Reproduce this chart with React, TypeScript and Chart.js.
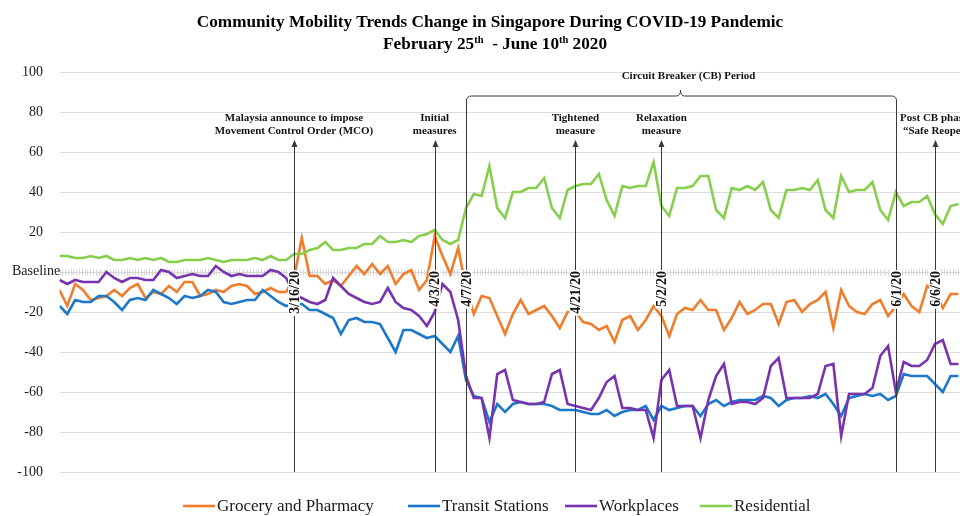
import React, { useEffect, useRef } from "react";
import { Chart, registerables } from "chart.js";

Chart.register(...registerables);

// ---------- DATA (day index 0 = 15 Feb 2020) ----------
const START_DATE = "2020-02-15";

const grocery = [
  -9, -17, -6, -9, -14, -13, -12, -9, -12, -8, -6, -13, -10, -11, -7, -10, -5, -5, -12, -11, -9, -10, -7, -6,
  -7, -11, -10, -8, -10, -10, -3, 17, -2, -2, -6, -4, -7, -2, 3, -1, 4, -1, 3, -6, -1, 1, -9,
  -4, 18, 8, -1, 12, -8, -21, -12, -13, -22, -31, -21, -14, -21, -19, -17, -22, -28, -20, -20, -25, -26, -29,
  -27, -35, -24, -22, -29, -24, -17, -22, -32, -21, -18, -19, -14, -19, -19, -29, -23, -15, -21, -19, -16, -16, -26,
  -15, -14, -20, -16, -14, -10, -28, -9, -17, -20, -21, -16, -14, -22, -17, -11, -17, -20, -7, -10, -18, -11, -11,
];

const transit = [
  -17, -21, -14, -15, -15, -12, -12, -15, -19, -14, -13, -14, -9, -11, -13, -16, -12, -13, -12, -9, -10, -15, -16, -15,
  -14, -14, -9, -12, -15, -17, -16, -16, -19, -19, -21, -23, -31, -24, -23, -25, -25, -26, -33, -40, -29, -29, -31,
  -33, -32, -36, -40, -32, -54, -62, -63, -75, -66, -70, -66, -65, -66, -66, -66, -67, -69, -69, -69, -70, -71, -71,
  -69, -72, -70, -69, -69, -67, -74, -67, -69, -68, -67, -67, -72, -66, -64, -67, -65, -64, -64, -64, -62, -63, -67,
  -64, -63, -63, -62, -63, -61, -66, -72, -63, -62, -61, -62, -61, -64, -62, -51, -52, -52, -52, -56, -60, -52, -52,
];

const workplaces = [
  -4, -6, -4, -5, -5, -5, 0, -3, -5, -3, -3, -4, -4, 1, 0, -3, -2, -1, -2, -2, 3, 0, -2, -1,
  -2, -2, -2, 1, 0, -3, -11, -13, -15, -16, -14, -3, -7, -11, -13, -15, -16, -15, -8, -15, -18, -19, -22,
  -27, -20, -6, -10, -24, -52, -63, -63, -83, -51, -49, -64, -65, -66, -66, -65, -51, -49, -66, -67, -68, -69, -63,
  -55, -52, -68, -68, -69, -69, -83, -54, -49, -67, -67, -67, -83, -64, -52, -46, -66, -65, -65, -66, -63, -47, -43,
  -63, -63, -63, -63, -61, -47, -46, -82, -61, -61, -61, -58, -42, -37, -60, -45, -47, -47, -44, -36, -34, -46, -46,
];

const residential = [
  8, 8, 7, 7, 8, 7, 8, 6, 6, 7, 6, 7, 6, 7, 5, 5, 6, 6, 6, 7, 6, 5, 6, 6,
  6, 7, 6, 8, 6, 6, 9, 9, 11, 12, 15, 11, 11, 12, 12, 14, 14, 18, 15, 15, 16, 15, 18,
  19, 21, 16, 14, 16, 32, 39, 38, 53, 32, 27, 40, 40, 42, 42, 47, 32, 27, 41, 43, 44, 44, 49,
  36, 28, 43, 42, 43, 43, 55, 33, 28, 42, 42, 43, 48, 48, 31, 27, 42, 41, 43, 41, 45, 31, 27,
  41, 41, 42, 41, 46, 31, 27, 48, 40, 41, 41, 45, 31, 26, 40, 33, 35, 35, 38, 29, 24, 33, 34,
];

const seriesNames = ["Grocery and Pharmacy", "Transit Stations", "Workplaces", "Residential"];
const seriesColors = ["#F07D2C", "#1C78C9", "#7833AE", "#86CE4B"];

const yTickValues = [100, 80, 60, 40, 20, 0, -20, -40, -60, -80, -100];
const baselineLabel = "Baseline";

const titleLine1 = "Community Mobility Trends Change in Singapore During COVID-19 Pandemic";
const titleLine2 = [
  { text: "February 25", sup: false },
  { text: "th", sup: true },
  { text: "  - June 10", sup: false },
  { text: "th", sup: true },
  { text: " 2020", sup: false },
];

// events: day index, date label, annotation lines, type
const events = [
  { day: 30, date: "3/16/20", lines: ["Malaysia announce to impose", "Movement Control Order (MCO)"], kind: "arrow", align: "center" },
  { day: 48, date: "4/3/20", lines: ["Initial", "measures"], kind: "arrow", align: "center" },
  { day: 52, date: "4/7/20", lines: [], kind: "bracket", align: "center" },
  { day: 66, date: "4/21/20", lines: ["Tightened", "measure"], kind: "arrow", align: "center" },
  { day: 77, date: "5/2/20", lines: ["Relaxation", "measure"], kind: "arrow", align: "center" },
  { day: 107, date: "6/1/20", lines: [], kind: "bracket", align: "center" },
  { day: 112, date: "6/6/20", lines: ["Post CB phase 1", "\u201CSafe Reopening\u201D"], kind: "arrow", align: "left" },
];
const cbLabel = "Circuit Breaker (CB) Period";

// legend layout (style only)
const LEGEND_ITEM_X = [183, 408, 565, 700];

function buildDayLabels(start: string, n: number): string[] {
  const out: string[] = [];
  const d0 = new Date(start + "T00:00:00Z");
  for (let i = 0; i < n; i++) {
    const d = new Date(d0.getTime() + i * 86400000);
    out.push(`${d.getUTCMonth() + 1}/${d.getUTCDate()}/20`);
  }
  return out;
}
const dayLabels = buildDayLabels(START_DATE, grocery.length);

const SERIF = "'Liberation Serif', 'Times New Roman', Times, serif";

const overlayPlugin = {
  id: "overlay",
  beforeDatasetsDraw(chart: any) {
    const { ctx, chartArea } = chart;
    const y = chart.scales.y;
    const y0 = Math.round(y.getPixelForValue(0)) + 0.5;
    ctx.save();
    ctx.strokeStyle = "#d6d6d6";
    ctx.lineWidth = 1;
    ctx.beginPath();
    ctx.moveTo(chartArea.left, y0);
    ctx.lineTo(chartArea.right, y0);
    ctx.stroke();
    ctx.beginPath();
    for (let px = chartArea.left; px <= chartArea.right; px += 2.8) {
      const xx = Math.round(px) + 0.5;
      ctx.moveTo(xx, y0 - 3);
      ctx.lineTo(xx, y0 + 3);
    }
    ctx.stroke();
    ctx.restore();
  },
  afterDatasetsDraw(chart: any) {
    const { ctx, chartArea } = chart;
    const xs = chart.scales.x;
    const ys = chart.scales.y;
    const bottom = chartArea.bottom;
    const tipY = ys.getPixelForValue(66);
    const bracketY = ys.getPixelForValue(88);
    const notchY = ys.getPixelForValue(91);
    ctx.save();
    ctx.strokeStyle = "#3a3a3a";
    ctx.fillStyle = "#3a3a3a";
    ctx.lineWidth = 1;

    const bracketXs: number[] = [];
    events.forEach((ev) => {
      const px = Math.round(xs.getPixelForValue(ev.day)) + 0.5;
      if (ev.kind === "arrow") {
        ctx.beginPath();
        ctx.moveTo(px, bottom);
        ctx.lineTo(px, tipY + 6);
        ctx.stroke();
        ctx.beginPath();
        ctx.moveTo(px, tipY);
        ctx.lineTo(px - 3, tipY + 7);
        ctx.lineTo(px + 3, tipY + 7);
        ctx.closePath();
        ctx.fill();
      } else {
        bracketXs.push(px);
      }
    });

    // Circuit breaker bracket
    if (bracketXs.length === 2) {
      const [a, b] = bracketXs;
      const r = 5;
      const mid = (a + b) / 2 - 1;
      ctx.beginPath();
      ctx.moveTo(a, bottom);
      ctx.lineTo(a, bracketY + r);
      ctx.quadraticCurveTo(a, bracketY, a + r, bracketY);
      ctx.lineTo(mid - 4, bracketY);
      ctx.quadraticCurveTo(mid, bracketY, mid, notchY);
      ctx.quadraticCurveTo(mid, bracketY, mid + 4, bracketY);
      ctx.lineTo(b - r, bracketY);
      ctx.quadraticCurveTo(b, bracketY, b, bracketY + r);
      ctx.lineTo(b, bottom);
      ctx.stroke();

      ctx.fillStyle = "#111";
      ctx.font = `bold 11px ${SERIF}`;
      ctx.textAlign = "center";
      ctx.textBaseline = "middle";
      ctx.fillText(cbLabel, mid + 8, ys.getPixelForValue(98));
    }

    // event texts
    ctx.fillStyle = "#111";
    ctx.font = `bold 11px ${SERIF}`;
    ctx.textBaseline = "middle";
    events.forEach((ev) => {
      const px = xs.getPixelForValue(ev.day);
      ev.lines.forEach((ln, i) => {
        const ty = ys.getPixelForValue(77) + i * 13;
        if (ev.align === "left") {
          ctx.textAlign = "left";
          ctx.fillText(ln, px - 35 + i * 3, ty);
        } else {
          ctx.textAlign = "center";
          ctx.fillText(ln, px, ty);
        }
      });
    });

    // rotated date labels
    ctx.font = `bold 14px ${SERIF}`;
    events.forEach((ev) => {
      const px = xs.getPixelForValue(ev.day);
      const topY = ys.getPixelForValue(0) - 1;
      const w = ctx.measureText(ev.date).width;
      ctx.save();
      ctx.translate(px, topY);
      ctx.rotate(-Math.PI / 2);
      ctx.fillStyle = "#ffffff";
      ctx.fillRect(-w - 2, -6, w + 3, 12);
      ctx.fillStyle = "#111";
      ctx.textAlign = "right";
      ctx.textBaseline = "middle";
      ctx.fillText(ev.date, 0, 1);
      ctx.restore();
    });
    ctx.restore();
  },
  afterDraw(chart: any) {
    const { ctx } = chart;
    const ys = chart.scales.y;
    ctx.save();
    // Baseline label
    ctx.fillStyle = "#1a1a1a";
    ctx.font = `14px ${SERIF}`;
    ctx.textAlign = "left";
    ctx.textBaseline = "middle";
    ctx.fillText(baselineLabel, 12, ys.getPixelForValue(0) - 1);

    // Title
    const cx = 490;
    ctx.fillStyle = "#000";
    ctx.font = `bold 17.2px ${SERIF}`;
    ctx.textAlign = "center";
    ctx.textBaseline = "alphabetic";
    ctx.fillText(titleLine1, cx, 27);

    // Title line 2 with superscripts
    ctx.textAlign = "left";
    const mainFont = `bold 17.2px ${SERIF}`;
    const supFont = `bold 10.5px ${SERIF}`;
    let total = 0;
    titleLine2.forEach((s) => {
      ctx.font = s.sup ? supFont : mainFont;
      total += ctx.measureText(s.text).width;
    });
    let sx = cx + 5 - total / 2;
    titleLine2.forEach((s) => {
      ctx.font = s.sup ? supFont : mainFont;
      ctx.fillText(s.text, sx, s.sup ? 43 : 49);
      sx += ctx.measureText(s.text).width;
    });

    // Legend
    ctx.font = `17px ${SERIF}`;
    const lineW = 32;
    const ly = 506;
    ctx.textBaseline = "middle";
    ctx.textAlign = "left";
    seriesNames.forEach((n, i) => {
      const lx = LEGEND_ITEM_X[i];
      ctx.strokeStyle = seriesColors[i];
      ctx.lineWidth = 2.6;
      ctx.beginPath();
      ctx.moveTo(lx, ly);
      ctx.lineTo(lx + lineW, ly);
      ctx.stroke();
      ctx.fillStyle = "#1a1a1a";
      ctx.fillText(n, lx + lineW + 2, ly + 1);
    });
    ctx.restore();
  },
};

export default function App() {
  const canvasRef = useRef<HTMLCanvasElement | null>(null);

  useEffect(() => {
    if (!canvasRef.current) return;
    const allSeries = [grocery, transit, workplaces, residential];
    const chart = new Chart(canvasRef.current, {
      type: "line",
      data: {
        labels: dayLabels,
        datasets: allSeries.map((arr, i) => ({
          label: seriesNames[i],
          data: arr.map((v, d) => ({ x: d, y: v })),
          borderColor: seriesColors[i],
          backgroundColor: seriesColors[i],
          borderWidth: 2.6,
          pointRadius: 0,
          tension: 0,
          fill: false,
          order: allSeries.length - i,
        })),
      },
      options: {
        animation: false,
        responsive: false,
        devicePixelRatio: 1,
        layout: { padding: { left: 0, right: 0, top: 72, bottom: 44 } },
        plugins: {
          legend: { display: false },
          title: { display: false },
          tooltip: { enabled: false },
        },
        scales: {
          x: {
            type: "linear",
            min: 0,
            max: 115.2,
            display: false,
          },
          y: {
            min: -100,
            max: 100,
            afterFit: (scale: any) => {
              scale.width = 59.5;
            },
            afterBuildTicks: (scale: any) => {
              scale.ticks = yTickValues.map((v) => ({ value: v }));
            },
            border: { display: false },
            grid: {
              drawTicks: false,
              color: (c: any) => (c.tick && c.tick.value === 0 ? "rgba(0,0,0,0)" : "#dcdcdc"),
              lineWidth: 1,
            },
            ticks: {
              padding: 16.5,
              color: "#1a1a1a",
              font: { family: SERIF, size: 14 },
              callback: (v: any) => (v === 0 ? "" : String(v)),
            },
          },
        },
      },
      plugins: [overlayPlugin],
    });
    return () => chart.destroy();
  }, []);

  return (
    <div style={{ position: "absolute", left: 0, top: 0, width: 960, height: 516, background: "#fff", overflow: "hidden" }}>
      <canvas ref={canvasRef} width={960} height={516} style={{ display: "block" }} />
    </div>
  );
}
